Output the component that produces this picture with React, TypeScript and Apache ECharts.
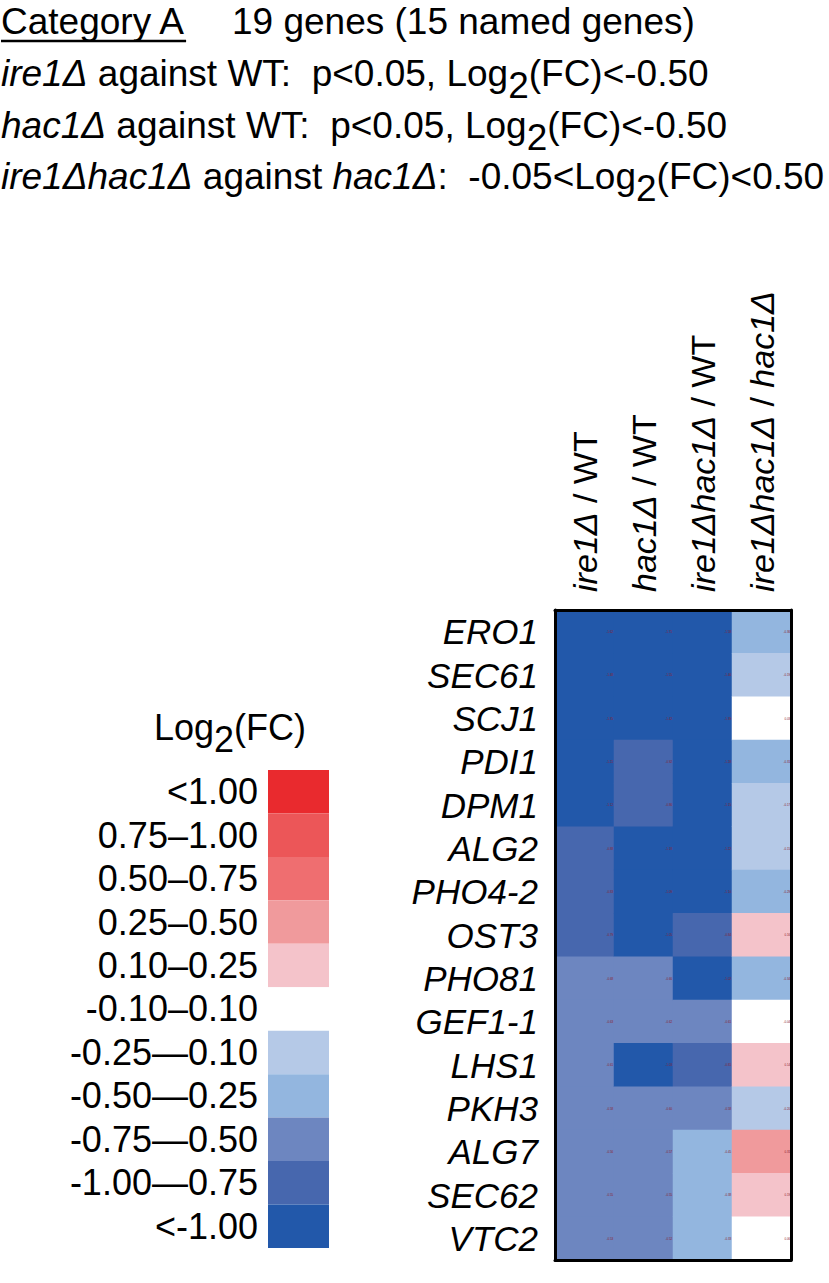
import React, { useEffect, useRef } from 'react';
import * as echarts from 'echarts';

const FONT = '"Liberation Sans", Arial, Helvetica, sans-serif';

const genes = ['ERO1', 'SEC61', 'SCJ1', 'PDI1', 'DPM1', 'ALG2', 'PHO4-2', 'OST3', 'PHO81', 'GEF1-1', 'LHS1', 'PKH3', 'ALG7', 'SEC62', 'VTC2'];
const comparisons = ['ire1Δ / WT', 'hac1Δ / WT', 'ire1Δhac1Δ / WT', 'ire1Δhac1Δ / hac1Δ'];

const ire1VsWT = [-1.62, -1.48, -1.35, -1.21, -1.12, -0.88, -0.83, -0.79, -0.68, -0.63, -0.61, -0.58, -0.56, -0.55, -0.53];
const hac1VsWT = [-1.71, -1.55, -1.42, -0.92, -0.86, -1.18, -1.09, -1.05, -0.66, -0.62, -1.03, -0.6, -0.57, -0.55, -0.52];
const doubleVsWT = [-1.58, -1.46, -1.39, -1.28, -1.15, -1.22, -1.1, -0.84, -1.02, -0.61, -0.81, -0.58, -0.45, -0.38, -0.33];
const doubleVsHac1 = [-0.36, -0.19, 0.03, -0.31, -0.17, -0.15, -0.29, 0.16, -0.34, -0.04, 0.14, -0.2, 0.31, 0.19, 0.06];

const binLower = [null, -1, -0.75, -0.5, -0.25, -0.1, 0.1, 0.25, 0.5, 0.75, 1];
const binUpper = [-1, -0.75, -0.5, -0.25, -0.1, 0.1, 0.25, 0.5, 0.75, 1, null];
const binLabels = ['<-1.00', '-1.00—0.75', '-0.75—0.50', '-0.50—0.25', '-0.25—0.10', '-0.10–0.10', '0.10–0.25', '0.25–0.50', '0.50–0.75', '0.75–1.00', '<1.00'];
const binColors = ['#2258aa', '#4767ae', '#6d86c0', '#93b6df', '#b5c9e7', '#ffffff', '#f4c3ca', '#f09a9c', '#ef6e70', '#ec5658', '#e92a2e'];

const titleCategory = 'Category A';
const titleCount = '19 genes (15 named genes)';

type Part = { t: string; it?: boolean; dy?: number };

const headerLines: Part[][] = [
  [{ t: 'ire1Δ', it: true }, { t: ' against WT:\u00a0\u00a0p<0.05, Log' }, { t: '2', dy: 12 }, { t: '(FC)<-0.50' }],
  [{ t: 'hac1Δ', it: true }, { t: ' against WT:\u00a0\u00a0p<0.05, Log' }, { t: '2', dy: 12 }, { t: '(FC)<-0.50' }],
  [{ t: 'ire1Δhac1Δ', it: true }, { t: ' against ' }, { t: 'hac1Δ', it: true }, { t: ':\u00a0\u00a0-0.05<Log' }, { t: '2', dy: 12 }, { t: '(FC)<0.50' }],
];
const legendTitle: Part[] = [{ t: 'Log' }, { t: '2', dy: 12 }, { t: '(FC)' }];

let ctx: CanvasRenderingContext2D | null = null;
function measure(text: string, size: number, italic?: boolean) {
  if (!ctx) ctx = document.createElement('canvas').getContext('2d');
  ctx!.font = `${italic ? 'italic ' : ''}${size}px ${FONT}`;
  return ctx!.measureText(text).width;
}

function buildLine(parts: Part[], x: number, y: number, size: number) {
  let cx = x;
  const els: any[] = [];
  for (const p of parts) {
    els.push({
      type: 'text',
      x: cx,
      y: y + (p.dy || 0),
      style: {
        text: p.t,
        fontSize: size,
        fontFamily: FONT,
        fontStyle: p.it ? 'italic' : 'normal',
        fill: '#000',
        align: 'left',
        verticalAlign: 'middle',
      },
    });
    cx += measure(p.t, size, p.it);
  }
  return { els, width: cx - x };
}

export default function App() {
  const ref = useRef<HTMLDivElement>(null);
  useEffect(() => {
    if (!ref.current) return;
    const chart = echarts.init(ref.current, undefined, { renderer: 'svg' });

    const columns = [ire1VsWT, hac1VsWT, doubleVsWT, doubleVsHac1];
    const data: number[][] = [];
    columns.forEach((col, xi) => col.forEach((v, yi) => data.push([xi, yi, v])));

    const pieces = binColors.map((c, i) => {
      const p: any = { color: c, label: binLabels[i] };
      if (binLower[i] !== null) p.gte = binLower[i];
      if (binUpper[i] !== null) p.lt = binUpper[i];
      return p;
    });

    const HS = 37;
    const graphics: any[] = [];
    const catW = measure(titleCategory, HS);
    graphics.push({ type: 'text', x: 1, y: 21, style: { text: titleCategory, fontSize: HS, fontFamily: FONT, fill: '#000', verticalAlign: 'middle' } });
    graphics.push({ type: 'line', shape: { x1: 1, y1: 41, x2: 1 + catW, y2: 41 }, style: { stroke: '#000', lineWidth: 2.5 } });
    graphics.push({ type: 'text', x: 232, y: 21, style: { text: titleCount, fontSize: HS, fontFamily: FONT, fill: '#000', verticalAlign: 'middle' } });
    const ys = [73, 125, 176];
    headerLines.forEach((parts, i) => graphics.push(...buildLine(parts, 1, ys[i], HS).els));
    const lt = buildLine(legendTitle, 0, 0, 36);
    graphics.push(...buildLine(legendTitle, 230 - lt.width / 2, 727, 36).els);

    const axisLineStyle = { show: true, onZero: false, lineStyle: { color: '#000', width: 3 } };

    chart.setOption({
      animation: false,
      grid: { left: 555, top: 610, width: 236, height: 650 },
      xAxis: [
        {
          type: 'category',
          data: comparisons,
          position: 'top',
          z: 10,
          axisTick: { show: false },
          axisLine: axisLineStyle,
          splitLine: { show: false },
          axisLabel: {
            rotate: -90,
            interval: 0,
            margin: 18,
            color: '#000',
            fontSize: 34,
            fontFamily: FONT,
            formatter: (v: string) => {
              const [l, r] = v.split(' / ');
              return `{i|${l}}{n| / }{${r.includes('Δ') ? 'i' : 'n'}|${r}}`;
            },
            rich: {
              i: { fontSize: 34, fontStyle: 'italic', fontFamily: FONT, color: '#000' },
              n: { fontSize: 34, fontStyle: 'normal', fontFamily: FONT, color: '#000' },
            },
          },
        },
        {
          type: 'category',
          data: comparisons,
          position: 'bottom',
          z: 10,
          axisTick: { show: false },
          axisLabel: { show: false },
          axisLine: axisLineStyle,
        },
      ],
      yAxis: [
        {
          type: 'category',
          data: genes,
          inverse: true,
          z: 10,
          axisTick: { show: false },
          axisLine: axisLineStyle,
          axisLabel: { interval: 0, color: '#000', fontSize: 35, fontStyle: 'italic', fontFamily: FONT, margin: 17 },
        },
        {
          type: 'category',
          data: genes,
          inverse: true,
          position: 'right',
          z: 10,
          axisTick: { show: false },
          axisLabel: { show: false },
          axisLine: axisLineStyle,
        },
      ],
      visualMap: {
        type: 'piecewise',
        dimension: 2,
        seriesIndex: 0,
        pieces,
        selectedMode: false,
        orient: 'vertical',
        align: 'right',
        right: 500,
        top: 770,
        padding: 0,
        itemWidth: 61,
        itemHeight: 43.45,
        itemGap: 0,
        itemSymbol: 'rect',
        textGap: 10,
        textStyle: { color: '#000', fontSize: 36, fontFamily: FONT },
      },
      series: [
        {
          type: 'heatmap',
          xAxisIndex: 0,
          yAxisIndex: 0,
          data,
          itemStyle: { borderWidth: 0 },
          emphasis: { disabled: true },
          label: {
            show: true,
            position: 'insideRight',
            distance: 1,
            fontSize: 3,
            color: '#8b1f2f',
            formatter: (p: any) => p.value[2].toFixed(2),
          },
        },
      ],
      graphic: graphics,
    });
    return () => chart.dispose();
  }, []);
  return <div ref={ref} style={{ position: 'absolute', left: 0, top: 0, width: 829, height: 1283, background: '#fff' }} />;
}
